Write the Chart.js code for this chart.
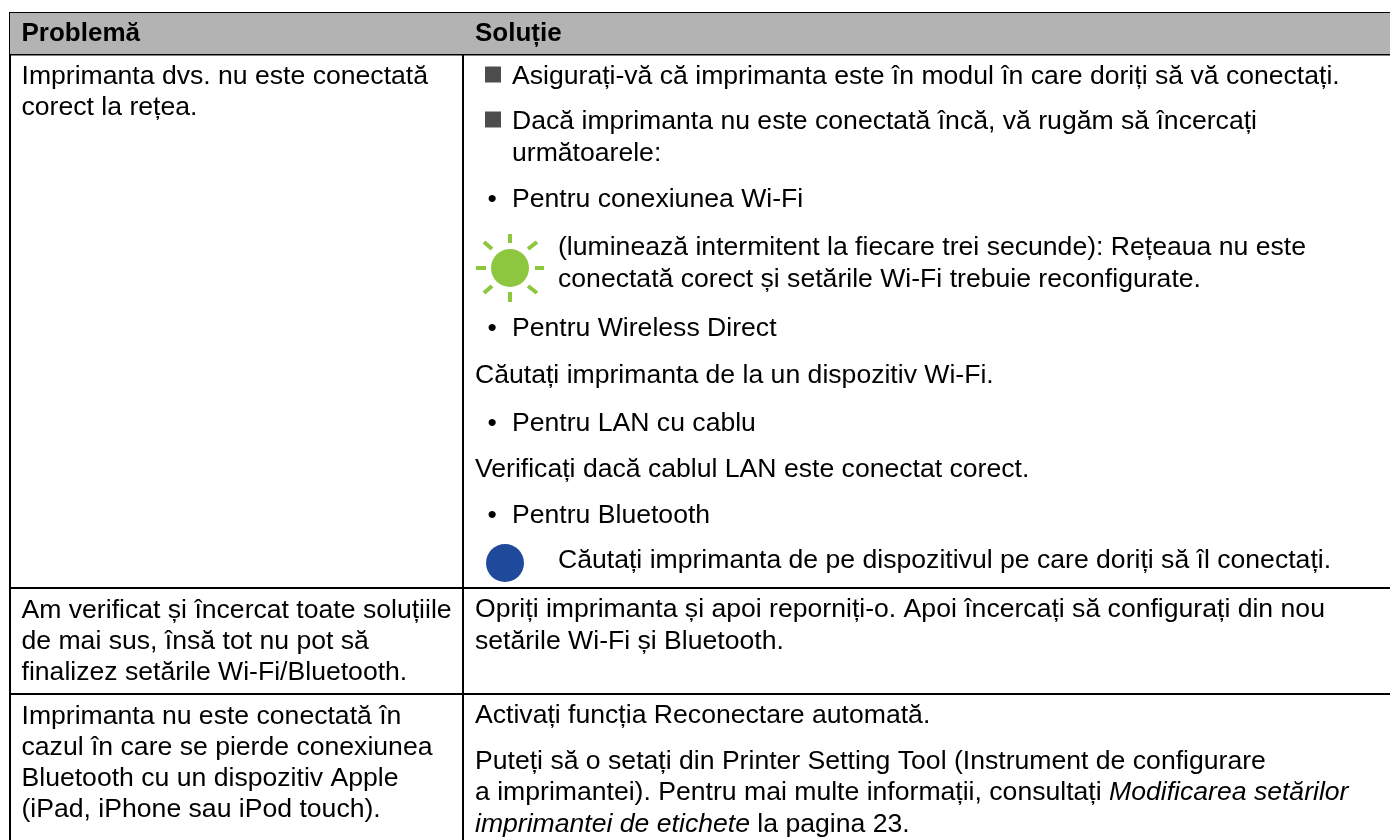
<!DOCTYPE html>
<html>
<head>
<meta charset="utf-8">
<style>
  html, body { margin: 0; background: #fff; }
  canvas { display: block; }
</style>
<script src="https://cdn.jsdelivr.net/npm/chart.js@4"></script>
</head>
<body>
<canvas id="tbl" width="1390" height="840"></canvas>
<script>
const headers = ['Problemă', 'Soluție'];

const problemLines = [
  'Imprimanta dvs. nu este conectată',
  'corect la rețea.',
  'Am verificat și încercat toate soluțiile',
  'de mai sus, însă tot nu pot să',
  'finalizez setările Wi-Fi/Bluetooth.',
  'Imprimanta nu este conectată în',
  'cazul în care se pierde conexiunea',
  'Bluetooth cu un dispozitiv Apple',
  '(iPad, iPhone sau iPod touch).'
];

// each line is a list of runs, [text, italic]
const solutionLines = [
  [['Asigurați-vă că imprimanta este în modul în care doriți să vă conectați.', false]],
  [['Dacă imprimanta nu este conectată încă, vă rugăm să încercați', false]],
  [['următoarele:', false]],
  [['•', false]],
  [['Pentru conexiunea Wi-Fi', false]],
  [['(luminează intermitent la fiecare trei secunde): Rețeaua nu este', false]],
  [['conectată corect și setările Wi-Fi trebuie reconfigurate.', false]],
  [['•', false]],
  [['Pentru Wireless Direct', false]],
  [['Căutați imprimanta de la un dispozitiv Wi-Fi.', false]],
  [['•', false]],
  [['Pentru LAN cu cablu', false]],
  [['Verificați dacă cablul LAN este conectat corect.', false]],
  [['•', false]],
  [['Pentru Bluetooth', false]],
  [['Căutați imprimanta de pe dispozitivul pe care doriți să îl conectați.', false]],
  [['Opriți imprimanta și apoi reporniți-o. Apoi încercați să configurați din nou', false]],
  [['setările Wi-Fi și Bluetooth.', false]],
  [['Activați funcția Reconectare automată.', false]],
  [['Puteți să o setați din Printer Setting Tool (Instrument de configurare', false]],
  [['a imprimantei). Pentru mai multe informații, consultați ', false], ['Modificarea setărilor', true]],
  [['imprimantei de etichete', true], [' la pagina 23.', false]]
];

// layout, in the axis units (the axes run 1:1 over the canvas)
const headerPos = [[21.5, 41], [475, 41]];
const problemPos = [84, 115, 617.5, 648.5, 679.5, 724, 755, 786, 817];
const solutionPos = [
  [512, 83.5], [512, 128.5], [512, 160.5], [487.5, 207], [512, 207], [558, 255], [558, 287],
  [487.5, 335.5], [512, 335.5], [475, 383], [487.5, 430.5], [512, 430.5], [475, 477], [487.5, 523],
  [512, 523], [558, 568], [475, 617], [475, 648.5], [475, 722.5], [475, 768.5], [475, 800], [475, 832]
];
const tableRules = [
  [[9, 13], [1390, 13]],
  [[9, 54.5], [1390, 54.5]],
  [[9, 588], [1390, 588]],
  [[9, 694], [1390, 694]],
  [[10, 12], [10, 840]],
  [[463, 12], [463, 840]]
];
const headerBand = [[10, 54], [1390, 54]];
const squareBullets = [[493, 74.5], [493, 119.5]];
const greenDot = [[510, 268]];
const blueDot = [[505, 563]];
const sunRays = [
  [[510, 234], [510, 243]], [[510, 292], [510, 302]],
  [[476, 268], [486, 268]], [[535, 268], [544, 268]],
  [[484, 242], [492, 249]], [[537, 242], [528, 249]],
  [[484, 293], [492, 286]], [[537, 293], [528, 286]]
];

const toPts = a => a.map(p => ({x: p[0], y: p[1]}));

const datasets = [];
datasets.push({
  data: toPts(headerBand), showLine: true, borderWidth: 0, pointRadius: 0,
  backgroundColor: '#b3b3b3', fill: {value: 13}
});
tableRules.forEach(r => datasets.push({
  data: toPts(r), showLine: true, borderColor: '#000', borderWidth: 2, pointRadius: 0
}));
sunRays.forEach(r => datasets.push({
  data: toPts(r), showLine: true, borderColor: '#8dc63f', borderWidth: 4, pointRadius: 0
}));
datasets.push({data: toPts(greenDot), pointRadius: 19, backgroundColor: '#8dc63f', borderWidth: 0});
datasets.push({data: toPts(blueDot), pointRadius: 19, backgroundColor: '#1f4a9c', borderWidth: 0});
datasets.push({data: toPts(squareBullets), pointStyle: 'rect', pointRadius: 11.3, backgroundColor: '#4d4d4d', borderWidth: 0});

const FONT = '"Liberation Sans", Arial, sans-serif';
const SIZE = 26.6;
const HEAD_SIZE = 26;

// chart.js has no table type, so the text goes in through a small plugin
const tableText = {
  id: 'tableText',
  afterDatasetsDraw(chart) {
    const c = chart.ctx, sx = chart.scales.x, sy = chart.scales.y;
    c.save();
    c.fillStyle = '#000';
    c.textBaseline = 'alphabetic';
    c.font = 'bold ' + HEAD_SIZE + 'px ' + FONT;
    headers.forEach((h, i) => {
      c.fillText(h, sx.getPixelForValue(headerPos[i][0]), sy.getPixelForValue(headerPos[i][1]));
    });
    c.font = SIZE + 'px ' + FONT;
    problemLines.forEach((t, i) => {
      c.fillText(t, sx.getPixelForValue(21.5), sy.getPixelForValue(problemPos[i]));
    });
    solutionLines.forEach((runs, i) => {
      let x = sx.getPixelForValue(solutionPos[i][0]);
      const y = sy.getPixelForValue(solutionPos[i][1]);
      runs.forEach(r => {
        c.font = (r[1] ? 'italic ' : '') + SIZE + 'px ' + FONT;
        c.fillText(r[0], x, y);
        x += c.measureText(r[0]).width;
      });
    });
    c.restore();
  }
};

new Chart(document.getElementById('tbl'), {
  type: 'scatter',
  data: {datasets: datasets},
  plugins: [tableText],
  options: {
    responsive: false,
    animation: false,
    layout: {padding: 0, autoPadding: false},
    plugins: {legend: {display: false}, tooltip: {enabled: false}, title: {display: false}},
    scales: {
      x: {type: 'linear', min: 0, max: 1390, display: false},
      y: {type: 'linear', min: 0, max: 840, reverse: true, display: false}
    }
  }
});
</script>
</body>
</html>
